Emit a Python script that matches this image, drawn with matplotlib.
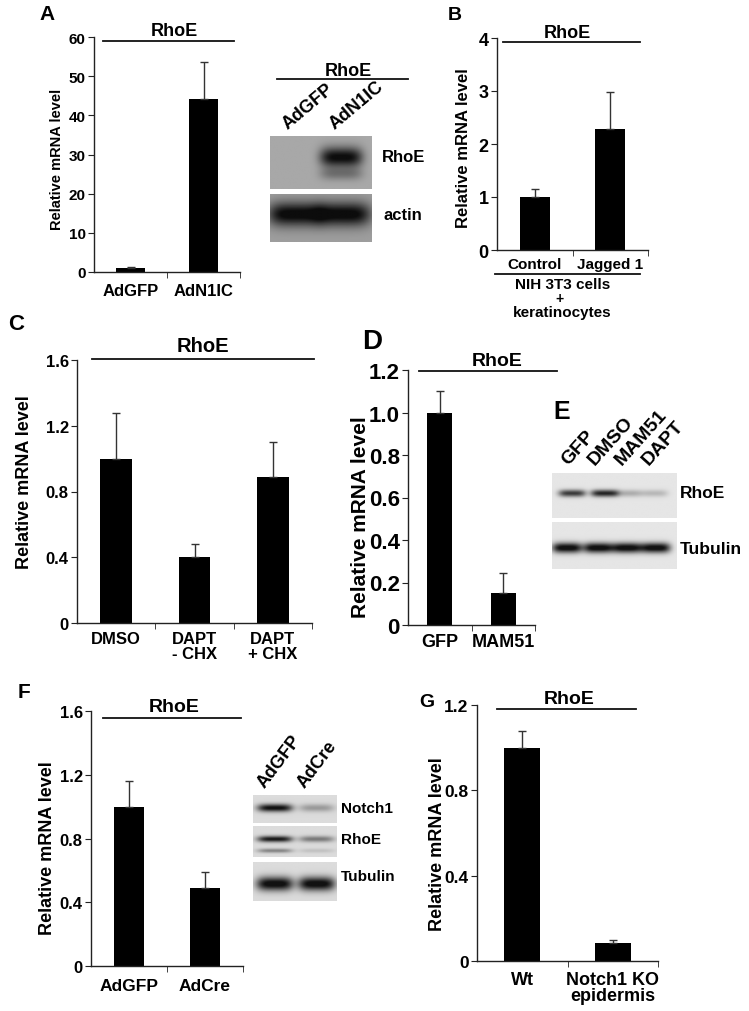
import numpy as np
import matplotlib
matplotlib.use("Agg")
import matplotlib.pyplot as plt
from matplotlib.lines import Line2D

plt.rcParams.update(
    {
        "font.family": "Liberation Sans",
        "font.weight": "bold",
        "axes.linewidth": 1.0,
        "axes.edgecolor": "#222222",
        "xtick.color": "#222222",
        "ytick.color": "#222222",
        "xtick.labelcolor": "black",
        "ytick.labelcolor": "black",
    }
)

# ---- bar chart data (relative mRNA level of RhoE) ----
a_labels = ["AdGFP", "AdN1IC"]
a_values = [1.0, 44.2]
a_errors = [0.3, 9.5]

b_labels = ["Control", "Jagged 1"]
b_values = [1.0, 2.28]
b_errors = [0.15, 0.70]

c_labels = ["DMSO", "DAPT\n- CHX", "DAPT\n+ CHX"]
c_values = [1.0, 0.40, 0.89]
c_errors = [0.28, 0.08, 0.21]

d_labels = ["GFP", "MAM51"]
d_values = [1.0, 0.15]
d_errors = [0.10, 0.095]

f_labels = ["AdGFP", "AdCre"]
f_values = [1.0, 0.49]
f_errors = [0.16, 0.10]

g_labels = ["Wt", "Notch1 KO\nepidermis"]
g_values = [1.0, 0.085]
g_errors = [0.08, 0.015]

# ---- western blot lanes and band strengths ----
a_blot_lanes = ["AdGFP", "AdN1IC"]
a_rhoe_bands = [0.0, 0.95]
a_rhoe_smear = [0.0, 0.3]
a_actin_bands = [1.0, 1.0]

e_blot_lanes = ["GFP", "DMSO", "MAM51", "DAPT"]
e_rhoe_bands = [0.75, 0.85, 0.25, 0.2]
e_tubulin_bands = [1.0, 1.0, 1.0, 1.0]

f_blot_lanes = ["AdGFP", "AdCre"]
f_notch1_bands = [0.95, 0.3]
f_rhoe_bands = [0.9, 0.45]
f_rhoe_lower = [0.4, 0.12]
f_tubulin_bands = [1.0, 1.0]

W, H = 749, 1012
fig = plt.figure(figsize=(W / 100, H / 100), dpi=100)


def rect(x0, y0, x1, y1):
    return [x0 / W, 1 - y1 / H, (x1 - x0) / W, (y1 - y0) / H]


def ftext(x, y, s, **kw):
    kw.setdefault("ha", "center")
    kw.setdefault("va", "center")
    fig.text(x / W, 1 - y / H, s, **kw)


def fline(x0, x1, y, lw=1.3):
    fig.add_artist(
        Line2D([x0 / W, x1 / W], [1 - y / H] * 2, color="#111111", lw=lw)
    )


def bar_panel(box, labels, values, errors, yticks, yticklabels, fs_y, fs_x, xpad):
    ax = fig.add_axes(rect(*box))
    n = len(values)
    pos = np.arange(n)
    ax.bar(pos, values, width=0.4, color="black")
    ax.errorbar(
        pos,
        values,
        yerr=[np.zeros(n), errors],
        fmt="none",
        ecolor="#333333",
        elinewidth=1.0,
        capsize=3,
        capthick=1.0,
    )
    ax.set_xlim(-0.5, n - 0.5)
    ax.set_ylim(yticks[0], yticks[-1])
    ax.set_yticks(yticks)
    ax.set_yticklabels(yticklabels, fontsize=fs_y)
    ax.set_xticks(pos)
    ax.set_xticklabels(labels, fontsize=fs_x, linespacing=0.95)
    ax.set_xticks(np.arange(n) + 0.5, minor=True)
    ax.tick_params(axis="x", which="major", length=0, pad=xpad)
    ax.tick_params(axis="x", which="minor", length=4, direction="out")
    ax.tick_params(axis="y", length=4, direction="out", pad=2)
    for s in ["top", "right"]:
        ax.spines[s].set_visible(False)
    return ax


def blot(box, bg, lane_x, lane_w, rows):
    ax = fig.add_axes(rect(*box))
    ny, nx = 80, 160
    xx, yy = np.meshgrid(np.linspace(0, 1, nx), np.linspace(0, 1, ny))
    dark = np.zeros_like(xx)
    for cy, hh, amps in rows:
        for cx, amp in zip(lane_x, amps):
            dark += (
                amp
                * np.exp(-np.abs((xx - cx) / lane_w) ** 4)
                * np.exp(-(((yy - cy) / hh) ** 2))
            )
    img = bg * (1 - np.clip(dark, 0, 0.92))
    ax.imshow(img, cmap="gray", vmin=0, vmax=1, aspect="auto",
              interpolation="bilinear")
    ax.set_xticks([])
    ax.set_yticks([])
    for s in ax.spines.values():
        s.set_visible(False)
    return ax


# ---------------- Panel A ----------------
bar_panel((94, 38, 240, 273), a_labels, a_values, a_errors,
          [0, 10, 20, 30, 40, 50, 60], ["0", "10", "20", "30", "40", "50", "60"],
          11, 12, 8)
ftext(57, 159, "Relative mRNA level", rotation=90, fontsize=10.5)
ftext(174, 31, "RhoE", fontsize=13)
fline(103, 234, 42)
ftext(47, 15, "A", fontsize=15)

blot((270, 137, 372, 190), 0.66, [0.25, 0.70], 0.21,
     [(0.40, 0.19, a_rhoe_bands), (0.72, 0.12, a_rhoe_smear)])
blot((270, 195, 372, 243), 0.62, [0.25, 0.72], 0.27,
     [(0.42, 0.25, a_actin_bands)])
ftext(348, 71, "RhoE", fontsize=13)
fline(277, 408, 80)
for x, lab in zip([290, 337], a_blot_lanes):
    ftext(x, 133, lab, fontsize=13, rotation=40, ha="left", va="bottom",
          rotation_mode="anchor")
ftext(382, 158, "RhoE", fontsize=12, ha="left")
ftext(383, 216, "actin", fontsize=12, ha="left")

# ---------------- Panel B ----------------
bar_panel((497, 39, 648, 251), b_labels, b_values, b_errors,
          [0, 1, 2, 3, 4], ["0", "1", "2", "3", "4"], 13, 11, 5)
ftext(463, 148, "Relative mRNA level", rotation=90, fontsize=12)
ftext(567, 33, "RhoE", fontsize=13)
fline(503, 640, 43)
ftext(455, 16, "B", fontsize=14)
fline(495, 640, 275)
ftext(563, 285, "NIH 3T3 cells", fontsize=11)
ftext(560, 299, "+", fontsize=10)
ftext(562, 313, "keratinocytes", fontsize=11)

# ---------------- Panel C ----------------
bar_panel((77, 361, 312, 624), c_labels, c_values, c_errors,
          [0, 0.4, 0.8, 1.2, 1.6], ["0", "0.4", "0.8", "1.2", "1.6"], 12, 12, 6)
ftext(25, 482, "Relative mRNA level", rotation=90, fontsize=13)
ftext(203, 347, "RhoE", fontsize=14.5)
fline(92, 314, 360)
ftext(16, 325, "C", fontsize=16)

# ---------------- Panel D ----------------
bar_panel((408, 371, 535, 626), d_labels, d_values, d_errors,
          [0, 0.2, 0.4, 0.6, 0.8, 1.0, 1.2],
          ["0", "0.2", "0.4", "0.6", "0.8", "1.0", "1.2"], 16, 13, 6)
ftext(360, 517, "Relative mRNA level", rotation=90, fontsize=15)
ftext(497, 361, "RhoE", fontsize=14)
fline(419, 557, 372)
ftext(372, 342, "D", fontsize=20)

# ---------------- Panel E ----------------
blot((552, 474, 677, 519), 0.9, [0.16, 0.42, 0.61, 0.82], 0.11,
     [(0.45, 0.08, e_rhoe_bands)])
blot((552, 523, 677, 570), 0.9, [0.12, 0.37, 0.60, 0.83], 0.12,
     [(0.55, 0.11, e_tubulin_bands)])
for x, lab in zip([571, 598, 625, 652], e_blot_lanes):
    ftext(x, 469, lab, fontsize=14, rotation=48, ha="left", va="bottom",
          rotation_mode="anchor")
ftext(680, 494, "RhoE", fontsize=12.5, ha="left")
ftext(680, 550, "Tubulin", fontsize=12.5, ha="left")
ftext(562, 412, "E", fontsize=18)

# ---------------- Panel F ----------------
bar_panel((91, 712, 243, 967), f_labels, f_values, f_errors,
          [0, 0.4, 0.8, 1.2, 1.6], ["0", "0.4", "0.8", "1.2", "1.6"], 12, 12.5, 9)
ftext(48, 848, "Relative mRNA level", rotation=90, fontsize=13)
ftext(174, 708, "RhoE", fontsize=14)
fline(103, 241, 719)
ftext(24, 693, "F", fontsize=15)

blot((253, 796, 337, 824), 0.86, [0.26, 0.76], 0.21,
     [(0.46, 0.14, f_notch1_bands)])
blot((253, 827, 337, 858), 0.86, [0.26, 0.76], 0.21,
     [(0.42, 0.10, f_rhoe_bands), (0.80, 0.07, f_rhoe_lower)])
blot((253, 863, 337, 902), 0.86, [0.26, 0.76], 0.22,
     [(0.56, 0.18, f_tubulin_bands)])
for x, lab in zip([268, 308], f_blot_lanes):
    ftext(x, 791, lab, fontsize=13, rotation=53, ha="left", va="bottom",
          rotation_mode="anchor")
ftext(341, 809, "Notch1", fontsize=11, ha="left")
ftext(341, 840, "RhoE", fontsize=11, ha="left")
ftext(341, 877, "Tubulin", fontsize=11, ha="left")

# ---------------- Panel G ----------------
bar_panel((477, 706, 658, 962), g_labels, g_values, g_errors,
          [0, 0.4, 0.8, 1.2], ["0", "0.4", "0.8", "1.2"], 12.5, 13, 7)
ftext(437, 844, "Relative mRNA level", rotation=90, fontsize=13)
ftext(569, 699, "RhoE", fontsize=14)
fline(497, 636, 710)
ftext(427, 703, "G", fontsize=14)

fig.savefig("out.png", dpi=100)
